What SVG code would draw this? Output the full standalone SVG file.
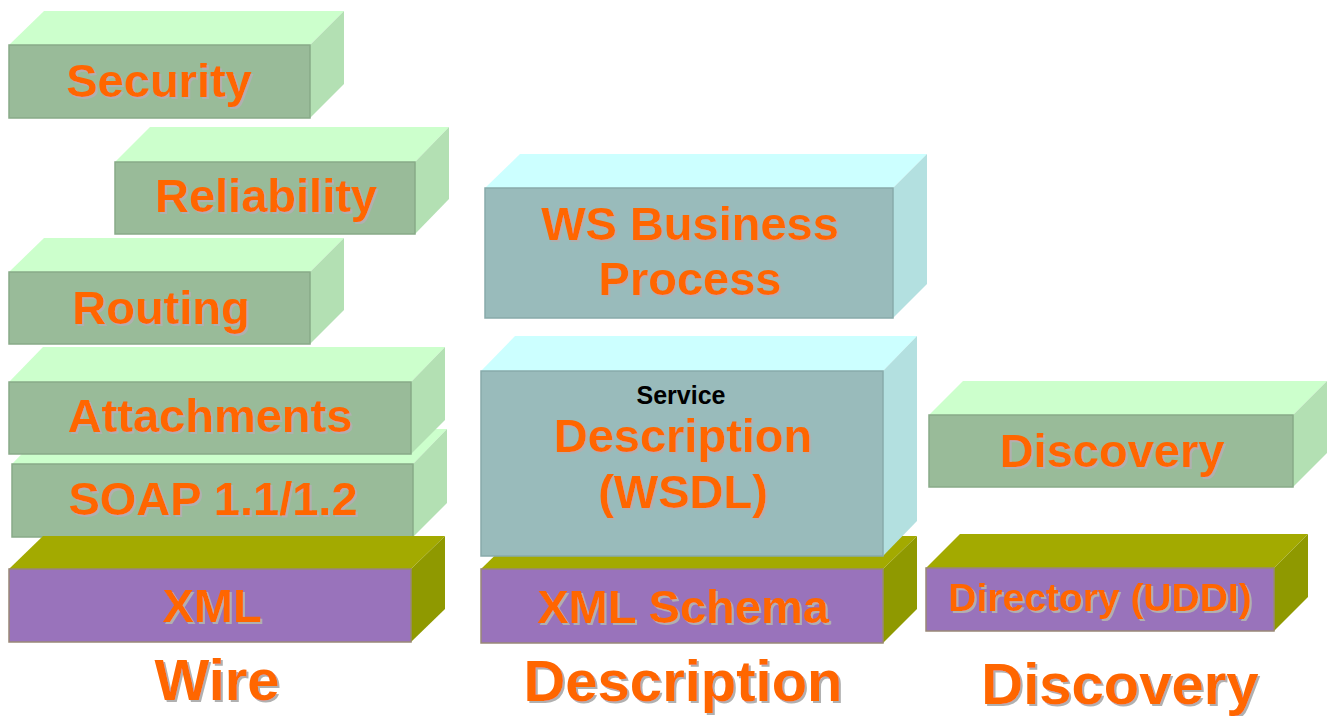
<svg xmlns="http://www.w3.org/2000/svg" width="1330" height="716" viewBox="0 0 1330 716">
<style>
.gf{fill:#99BB99;stroke:#88AA88;stroke-width:1.5}
.gt{fill:#CCFFCC}
.gs{fill:#B3E0B3}
.tf{fill:#99BBBB;stroke:#88AAAA;stroke-width:1.5}
.tt{fill:#CCFFFF}
.ts{fill:#B3E0E0}
.pf{fill:#9973BB;stroke:#998877;stroke-width:1.5}
.pt{fill:#A3AA00}
.ps{fill:#8F9900}
.lbl{font-family:"Liberation Sans",Arial,sans-serif;font-weight:bold;fill:#FF6600;text-anchor:middle;filter:url(#sh)}
.big{font-size:47px}
.med{font-size:39px}
.cap{font-size:58px}
.blk{font-family:"Liberation Sans",Arial,sans-serif;font-weight:bold;fill:#000;text-anchor:middle;font-size:25px}
</style>
<defs>
<filter id="sh" x="-5%" y="-5%" width="110%" height="120%">
<feFlood flood-color="#B0B0B0" result="c"/>
<feComposite in="c" in2="SourceAlpha" operator="in" result="s"/>
<feOffset in="s" dx="2" dy="2" result="o"/>
<feMerge><feMergeNode in="o"/><feMergeNode in="SourceGraphic"/></feMerge>
</filter>
</defs>
<rect width="1330" height="716" fill="#fff"/>

<g id="security">
<polygon class="gt" points="9,45 44,11 344,11 310,45"/>
<polygon class="gs" points="310,45 344,11 344,84 310,118"/>
<rect class="gf" x="9" y="45" width="301" height="73"/>
<text class="lbl big" x="159" y="97">Security</text>
</g>

<g id="reliability">
<polygon class="gt" points="115,162 150,127 449,127 415,162"/>
<polygon class="gs" points="415,162 449,127 449,199 415,234"/>
<rect class="gf" x="115" y="162" width="300" height="72"/>
<text class="lbl big" x="266" y="212">Reliability</text>
</g>

<g id="routing">
<polygon class="gt" points="9,272 44,238 344,238 310,272"/>
<polygon class="gs" points="310,272 344,238 344,310 310,344"/>
<rect class="gf" x="9" y="272" width="301" height="72"/>
<text class="lbl big" x="161" y="324">Routing</text>
</g>

<g id="soap">
<polygon class="gt" points="12,464 46,429 447,429 413,464"/>
<polygon class="gs" points="413,464 447,429 447,503 413,537"/>
<rect class="gf" x="12" y="464" width="401" height="73"/>
<text class="lbl big" x="213" y="515">SOAP 1.1/1.2</text>
</g>

<g id="attachments">
<polygon class="gt" points="9,382 43,347 445,347 411,382"/>
<polygon class="gs" points="411,382 445,347 445,420 411,454"/>
<rect class="gf" x="9" y="382" width="402" height="72"/>
<text class="lbl big" x="210" y="432">Attachments</text>
</g>

<g id="xml">
<polygon class="pt" points="9,569 43,536 445,536 411,569"/>
<polygon class="ps" points="411,569 445,536 445,609 411,642"/>
<rect class="pf" x="9" y="569" width="402" height="73"/>
<text class="lbl big" x="212" y="622">XML</text>
</g>

<g id="ws-business-process">
<polygon class="tt" points="485,188 520,154 927,154 893,188"/>
<polygon class="ts" points="893,188 927,154 927,284 893,318"/>
<rect class="tf" x="485" y="188" width="408" height="130"/>
<text class="lbl big" x="690" y="240">WS Business</text>
<text class="lbl big" x="690" y="295">Process</text>
</g>

<g id="xml-schema">
<polygon class="pt" points="481,569 515,536 917,536 883,569"/>
<polygon class="ps" points="883,569 917,536 917,609 883,643"/>
<rect class="pf" x="481" y="569" width="402" height="74"/>
<text class="lbl big" x="683" y="623">XML Schema</text>
</g>

<g id="service-description">
<polygon class="tt" points="481,371 515,336 917,336 883,371"/>
<polygon class="ts" points="883,371 917,336 917,521 883,556"/>
<rect class="tf" x="481" y="371" width="402" height="185"/>
<text class="blk" x="681" y="404">Service</text>
<text class="lbl big" x="683" y="452">Description</text>
<text class="lbl big" x="683" y="508">(WSDL)</text>
</g>

<g id="discovery">
<polygon class="gt" points="929,415 963,381 1327,381 1293,415"/>
<polygon class="gs" points="1293,415 1327,381 1327,453 1293,487"/>
<rect class="gf" x="929" y="415" width="364" height="72"/>
<text class="lbl big" x="1112" y="467">Discovery</text>
</g>

<g id="directory">
<polygon class="pt" points="926,568 960,534 1308,534 1274,568"/>
<polygon class="ps" points="1274,568 1308,534 1308,597 1274,631"/>
<rect class="pf" x="926" y="568" width="348" height="63"/>
<text class="lbl med" x="1100" y="611">Directory (UDDI)</text>
</g>

<g id="connectors"></g>

<g id="column-labels">
<text class="lbl cap" x="217" y="700">Wire</text>
<text class="lbl cap" x="683" y="701">Description</text>
<text class="lbl cap" x="1120" y="704">Discovery</text>
</g>
</svg>
